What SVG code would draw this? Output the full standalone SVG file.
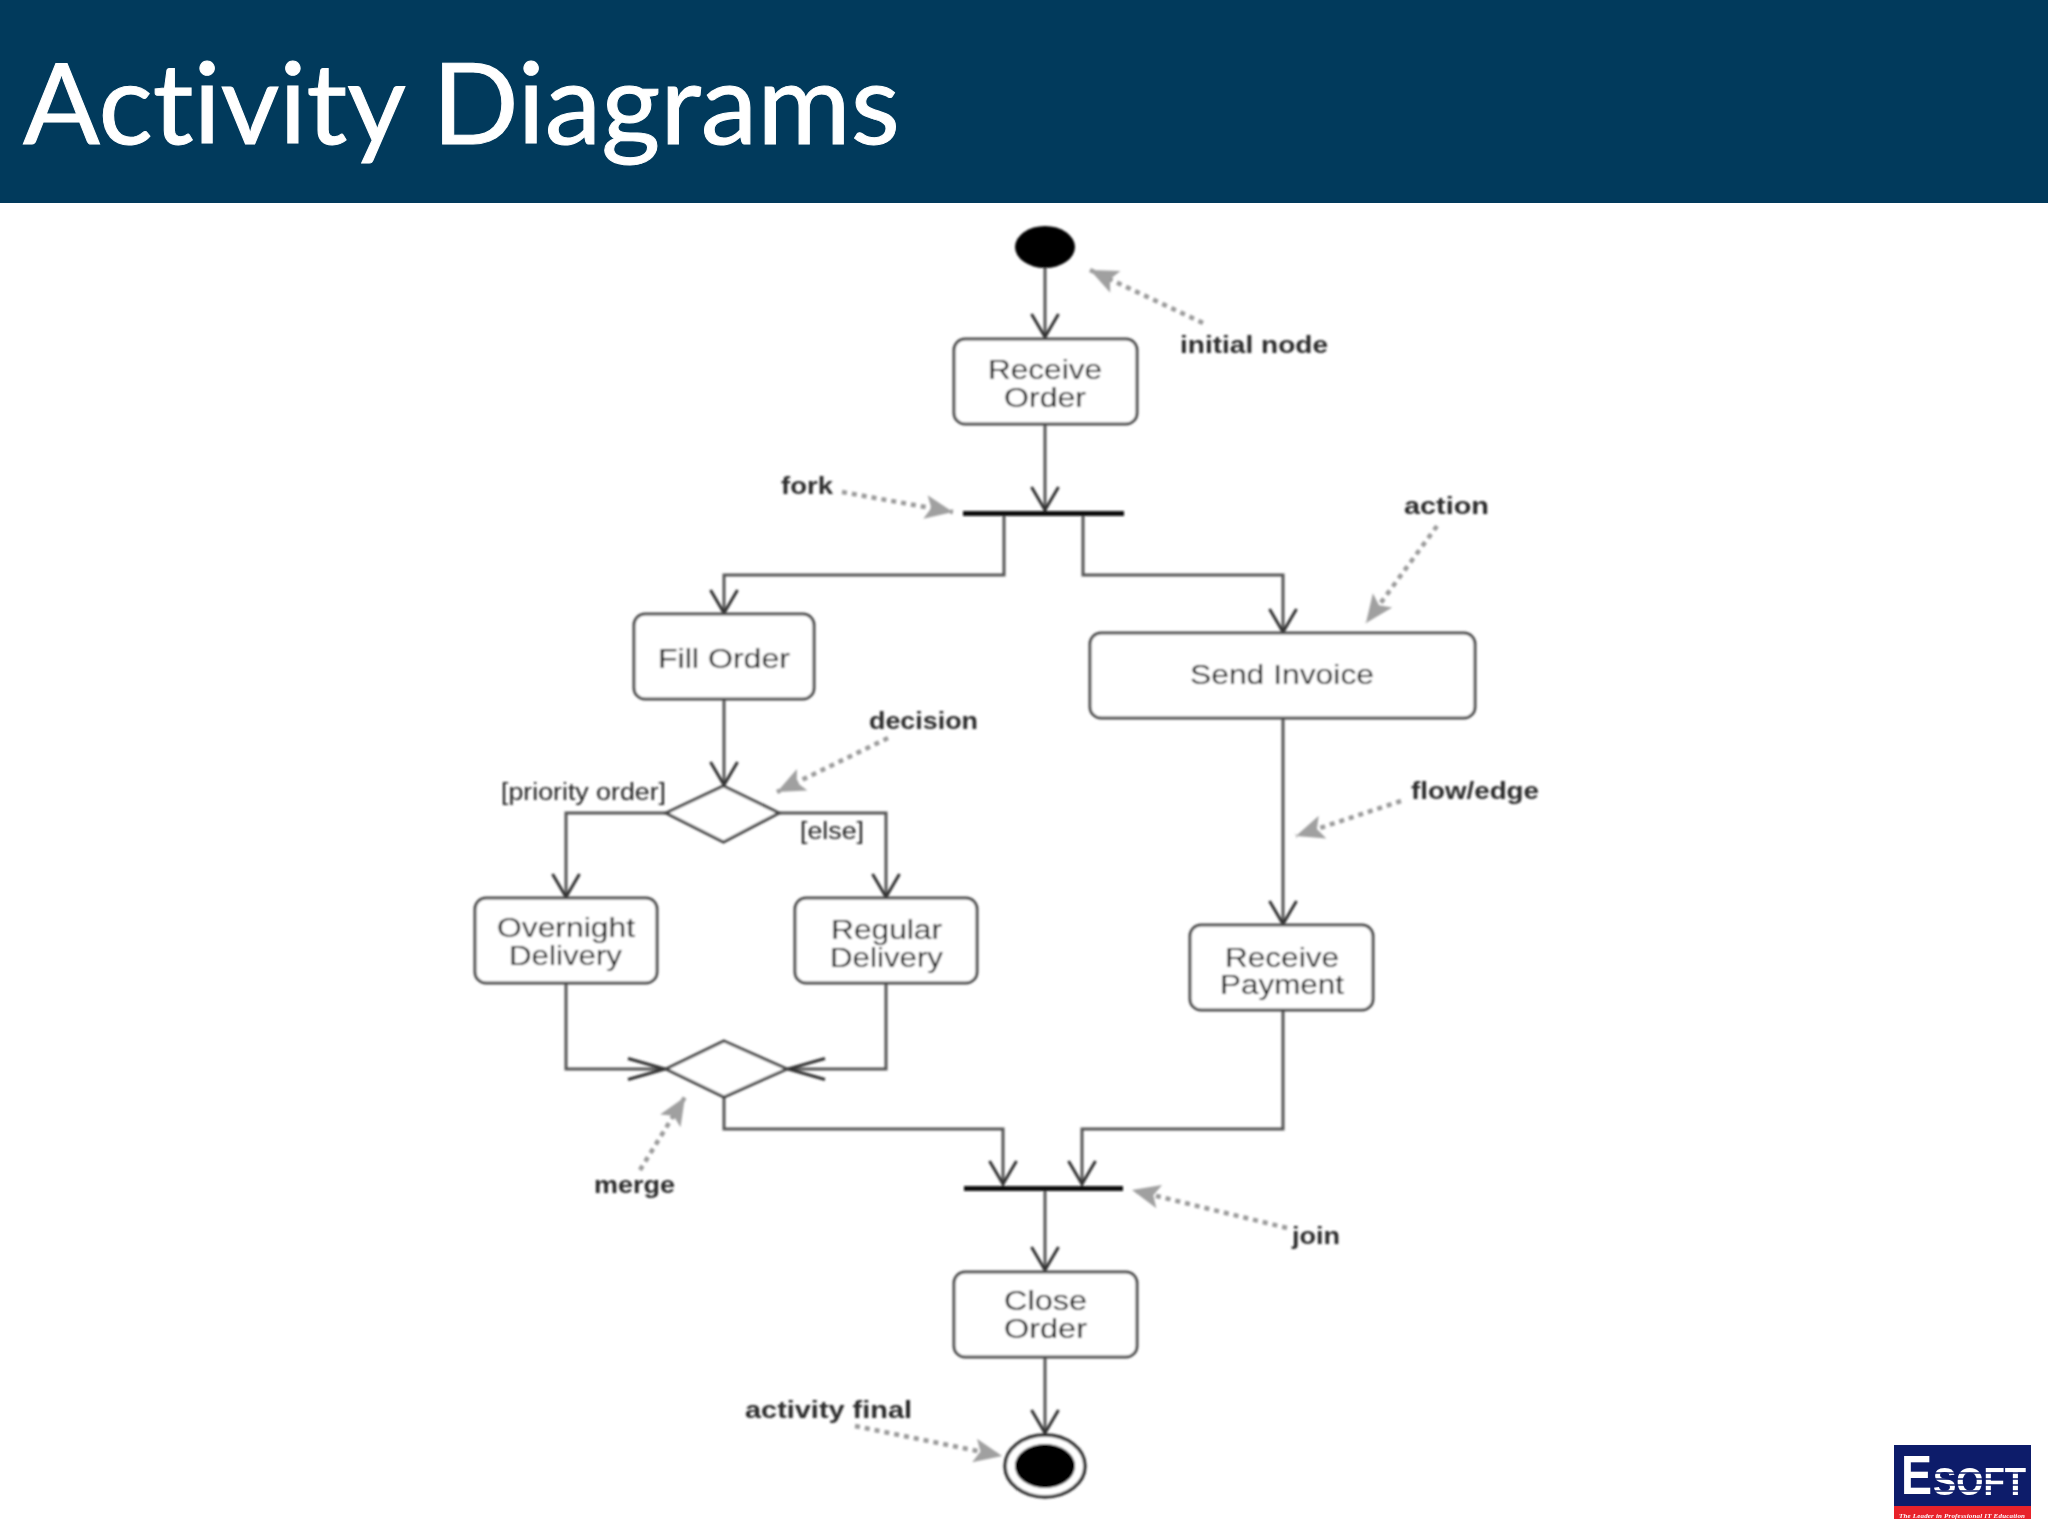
<svg xmlns="http://www.w3.org/2000/svg" width="2048" height="1536" viewBox="0 0 2048 1536">
<style>
.box{fill:#fff;stroke:#4c4c4c;stroke-width:3}
.dia{fill:#fff;stroke:#444;stroke-width:3}
.flow{fill:none;stroke:#555;stroke-width:3;marker-end:url(#v)}
.flowh{fill:none;stroke:#555;stroke-width:3;marker-end:url(#vh)}
.note{fill:none;stroke:#9a9a9a;stroke-width:4.500;stroke-dasharray:5 5;marker-end:url(#g)}
.lb{font-family:"Liberation Sans",Arial,sans-serif;font-size:27px;fill:#000}
.an{font-family:"Liberation Sans",Arial,sans-serif;font-size:24px;font-weight:bold;fill:#2a2a2a}
.gd{font-family:"Liberation Sans",Arial,sans-serif;font-size:23px;fill:#222}
.bar{fill:#111}
</style>
<defs>
<marker id="v" markerUnits="userSpaceOnUse" markerWidth="40" markerHeight="40" refX="30" refY="20" orient="auto"><path d="M6 6.500L29 20L6 33.500" fill="none" stroke="#333" stroke-width="3"/></marker>
<marker id="vh" markerUnits="userSpaceOnUse" markerWidth="50" markerHeight="30" refX="42" refY="15" orient="auto"><path d="M4 4.500L41 15L4 25.500" fill="none" stroke="#333" stroke-width="3"/></marker>
<marker id="g" markerUnits="userSpaceOnUse" markerWidth="36" markerHeight="32" refX="30" refY="16" orient="auto"><path d="M2 4L30 16L2 28L8 16Z" fill="#a0a0a0"/></marker>
<filter id="soft" x="-2%" y="-2%" width="104%" height="104%"><feGaussianBlur stdDeviation="0.8"/></filter>
<filter id="logoSoft" x="-2%" y="-2%" width="104%" height="104%"><feGaussianBlur stdDeviation="0.5"/></filter>
</defs>
<rect width="2048" height="1536" fill="#fff"/>
<g id="header">
<rect width="2048" height="203" fill="#013a5c"/>
<text x="23" y="144" font-family="Lato,'Open Sans',sans-serif" font-size="112" fill="#fff" stroke="#fff" stroke-width="1" style="font-variant-ligatures:none" textLength="877" lengthAdjust="spacingAndGlyphs">Activity Diagrams</text>
</g>
<g filter="url(#soft)">
<g id="connectors">
<path class="flow" d="M1045 268V338"/>
<path class="flow" d="M1045 424V511"/>
<path class="flow" d="M1004 516V575H724V614"/>
<path class="flow" d="M1083 516V575H1283V633"/>
<path class="flow" d="M724 699V786"/>
<path class="flow" d="M666 813H566V898"/>
<path class="flow" d="M779 813H886V898"/>
<path class="flow" d="M1283 718V925"/>
<path class="flowh" d="M566 983V1069H666"/>
<path class="flowh" d="M886 983V1069H787"/>
<path class="flow" d="M724 1097V1129H1003V1185"/>
<path class="flow" d="M1283 1010V1129H1082V1185"/>
<path class="flow" d="M1045 1190V1271"/>
<path class="flow" d="M1045 1357V1434"/>
</g>
<g id="annotation-arrows">
<path class="note" d="M1203 323L1090 270"/>
<path class="note" d="M842 492L953 512"/>
<path class="note" d="M1437 526L1366 623"/>
<path class="note" d="M888 738L777 792"/>
<path class="note" d="M1401 801L1296 836"/>
<path class="note" d="M640 1170L685 1097"/>
<path class="note" d="M1287 1228L1132 1190"/>
<path class="note" d="M855 1426L1002 1456"/>
</g>
<g id="initial-node"><ellipse cx="1045" cy="247" rx="30" ry="21" fill="#000"/></g>
<g id="receive-order"><rect class="box" x="954" y="339" width="183" height="85" rx="11"/>
<text class="lb" x="988" y="379" textLength="114" lengthAdjust="spacingAndGlyphs">Receive</text>
<text class="lb" x="1004" y="407" textLength="82" lengthAdjust="spacingAndGlyphs">Order</text></g>
<g id="fork"><rect class="bar" x="963" y="511" width="161" height="5"/></g>
<g id="fill-order"><rect class="box" x="634" y="614" width="180" height="85" rx="11"/>
<text class="lb" x="658" y="668" textLength="132" lengthAdjust="spacingAndGlyphs">Fill Order</text></g>
<g id="send-invoice"><rect class="box" x="1090" y="633" width="385" height="85" rx="11"/>
<text class="lb" x="1190" y="684" textLength="184" lengthAdjust="spacingAndGlyphs">Send Invoice</text></g>
<g id="decision"><path class="dia" d="M723.500 786L779 813L723.500 842L666 813Z"/>
<text class="gd" x="501" y="800" textLength="165" lengthAdjust="spacingAndGlyphs">[priority order]</text>
<text class="gd" x="800" y="839" textLength="64" lengthAdjust="spacingAndGlyphs">[else]</text></g>
<g id="overnight-delivery"><rect class="box" x="475" y="898" width="182" height="85" rx="11"/>
<text class="lb" x="497" y="937" textLength="138" lengthAdjust="spacingAndGlyphs">Overnight</text>
<text class="lb" x="509" y="965" textLength="113" lengthAdjust="spacingAndGlyphs">Delivery</text></g>
<g id="regular-delivery"><rect class="box" x="795" y="898" width="182" height="85" rx="11"/>
<text class="lb" x="831" y="939" textLength="111" lengthAdjust="spacingAndGlyphs">Regular</text>
<text class="lb" x="830" y="967" textLength="113" lengthAdjust="spacingAndGlyphs">Delivery</text></g>
<g id="receive-payment"><rect class="box" x="1190" y="925" width="183" height="85" rx="11"/>
<text class="lb" x="1225" y="967" textLength="114" lengthAdjust="spacingAndGlyphs">Receive</text>
<text class="lb" x="1220" y="994" textLength="124" lengthAdjust="spacingAndGlyphs">Payment</text></g>
<g id="merge"><path class="dia" d="M724 1041L787 1069L724 1097L666 1069Z"/></g>
<g id="join"><rect class="bar" x="964" y="1186" width="159" height="5"/></g>
<g id="close-order"><rect class="box" x="954" y="1272" width="183" height="85" rx="11"/>
<text class="lb" x="1004" y="1310" textLength="83" lengthAdjust="spacingAndGlyphs">Close</text>
<text class="lb" x="1004" y="1338" textLength="83" lengthAdjust="spacingAndGlyphs">Order</text></g>
<g id="activity-final"><ellipse cx="1045" cy="1466" rx="40" ry="31" fill="#fff" stroke="#333" stroke-width="3.500"/><ellipse cx="1045" cy="1466" rx="30" ry="22" fill="#000"/></g>
<g id="annotations">
<text class="an" x="1180" y="353" textLength="148" lengthAdjust="spacingAndGlyphs">initial node</text>
<text class="an" x="781" y="494" textLength="52" lengthAdjust="spacingAndGlyphs">fork</text>
<text class="an" x="1404" y="514" textLength="85" lengthAdjust="spacingAndGlyphs">action</text>
<text class="an" x="869" y="729" textLength="109" lengthAdjust="spacingAndGlyphs">decision</text>
<text class="an" x="1411" y="799" textLength="128" lengthAdjust="spacingAndGlyphs">flow/edge</text>
<text class="an" x="594" y="1193" textLength="81" lengthAdjust="spacingAndGlyphs">merge</text>
<text class="an" x="1292" y="1244" textLength="48" lengthAdjust="spacingAndGlyphs">join</text>
<text class="an" x="745" y="1418" textLength="167" lengthAdjust="spacingAndGlyphs">activity final</text>
</g>
</g>
<g id="logo" filter="url(#logoSoft)">
<rect x="1894" y="1445" width="137" height="74" fill="#0f1d6b"/>
<rect x="1894" y="1506" width="137" height="13" fill="#e8202a"/>
<text x="1901" y="1494" font-family="'Liberation Sans',sans-serif" font-weight="bold" font-size="56" fill="#fff" textLength="31" lengthAdjust="spacingAndGlyphs">E</text>
<text x="1933" y="1495" font-family="'Liberation Sans',sans-serif" font-weight="bold" font-size="38" fill="#fff" textLength="93" lengthAdjust="spacingAndGlyphs">SOFT</text>
<path d="M1933 1473H2027M1933 1479H2027M1933 1485H2027M1933 1491H2027" stroke="#0f1d6b" stroke-width="1.600"/>
<text x="1899" y="1517.500" font-family="'Liberation Serif',serif" font-weight="bold" font-style="italic" font-size="7" fill="#fff" textLength="126" lengthAdjust="spacing">The Leader in Professional IT Education</text>
</g>
</svg>
